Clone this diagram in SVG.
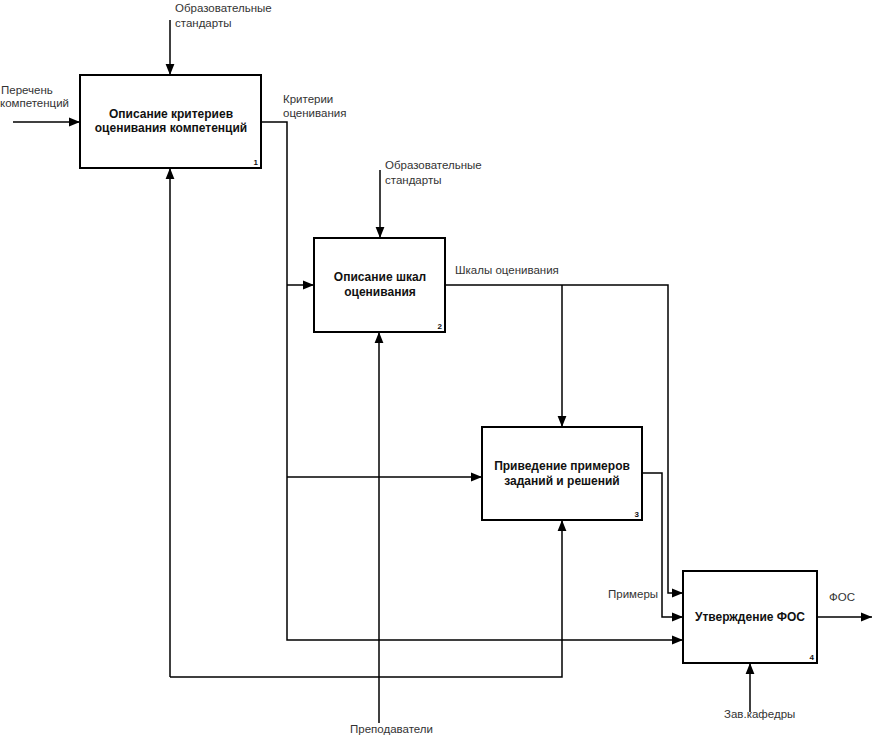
<svg xmlns="http://www.w3.org/2000/svg" width="874" height="737" viewBox="0 0 874 737">
<style>
.box{fill:#fff;stroke:#000;stroke-width:2}
.ln{fill:none;stroke:#000;stroke-width:1.5}
.t{font-family:"Liberation Sans",Arial,sans-serif;font-size:11.5px;fill:#333}
.b{font-family:"Liberation Sans",Arial,sans-serif;font-size:12px;font-weight:bold;fill:#111;text-anchor:middle}
.n{font-family:"Liberation Sans",Arial,sans-serif;font-size:8px;font-weight:bold;fill:#111;text-anchor:end}
</style>
<defs>
<marker id="ar" viewBox="0 0 10 10" refX="10" refY="5" markerWidth="11" markerHeight="11" markerUnits="userSpaceOnUse" orient="auto">
<path d="M0,1 L10,5 L0,9 Z" fill="#000"/>
</marker>
</defs>
<g id="connectors">
<path class="ln" d="M13,122 H80" marker-end="url(#ar)"/>
<path class="ln" d="M170,20 V75" marker-end="url(#ar)"/>
<path class="ln" d="M262,122 H287 V640 H683" marker-end="url(#ar)"/>
<path class="ln" d="M287,285 H314" marker-end="url(#ar)"/>
<path class="ln" d="M287,477 H482" marker-end="url(#ar)"/>
<path class="ln" d="M380,170 V238" marker-end="url(#ar)"/>
<path class="ln" d="M445,285 H668 V593 H683" marker-end="url(#ar)"/>
<path class="ln" d="M562,285 V427" marker-end="url(#ar)"/>
<path class="ln" d="M379,723 V332" marker-end="url(#ar)"/>
<path class="ln" d="M170,677 V168" marker-end="url(#ar)"/>
<path class="ln" d="M170,677 H562 V520" marker-end="url(#ar)"/>
<path class="ln" d="M642,473 H662 V617 H683" marker-end="url(#ar)"/>
<path class="ln" d="M817,617 H872" marker-end="url(#ar)"/>
<path class="ln" d="M750,712 V663" marker-end="url(#ar)"/>
</g>
<g id="node1">
<rect class="box" x="80" y="75" width="181" height="93"/>
<text class="b" x="171" y="118">Описание критериев</text>
<text class="b" x="171" y="132">оценивания компетенций</text>
<text class="n" x="258" y="165">1</text>
</g>
<g id="node2">
<rect class="box" x="314" y="238" width="131" height="94"/>
<text class="b" x="380" y="281">Описание шкал</text>
<text class="b" x="380" y="296">оценивания</text>
<text class="n" x="442" y="329">2</text>
</g>
<g id="node3">
<rect class="box" x="482" y="427" width="160" height="93"/>
<text class="b" x="562" y="470">Приведение примеров</text>
<text class="b" x="562" y="485">заданий и решений</text>
<text class="n" x="639" y="517">3</text>
</g>
<g id="node4">
<rect class="box" x="683" y="571" width="134" height="92"/>
<text class="b" x="750" y="621">Утверждение ФОС</text>
<text class="n" x="814" y="660">4</text>
</g>
<g id="labels">
<text class="t" x="1" y="94">Перечень</text>
<text class="t" x="0" y="107">компетенций</text>
<text class="t" x="175" y="12">Образовательные</text>
<text class="t" x="175" y="27">стандарты</text>
<text class="t" x="283" y="103">Критерии</text>
<text class="t" x="283" y="117">оценивания</text>
<text class="t" x="385" y="169">Образовательные</text>
<text class="t" x="385" y="184">стандарты</text>
<text class="t" x="455" y="274">Шкалы оценивания</text>
<text class="t" x="608" y="598">Примеры</text>
<text class="t" x="829" y="601">ФОС</text>
<text class="t" x="724" y="718">Зав.кафедры</text>
<text class="t" x="350" y="733">Преподаватели</text>
</g>
</svg>
